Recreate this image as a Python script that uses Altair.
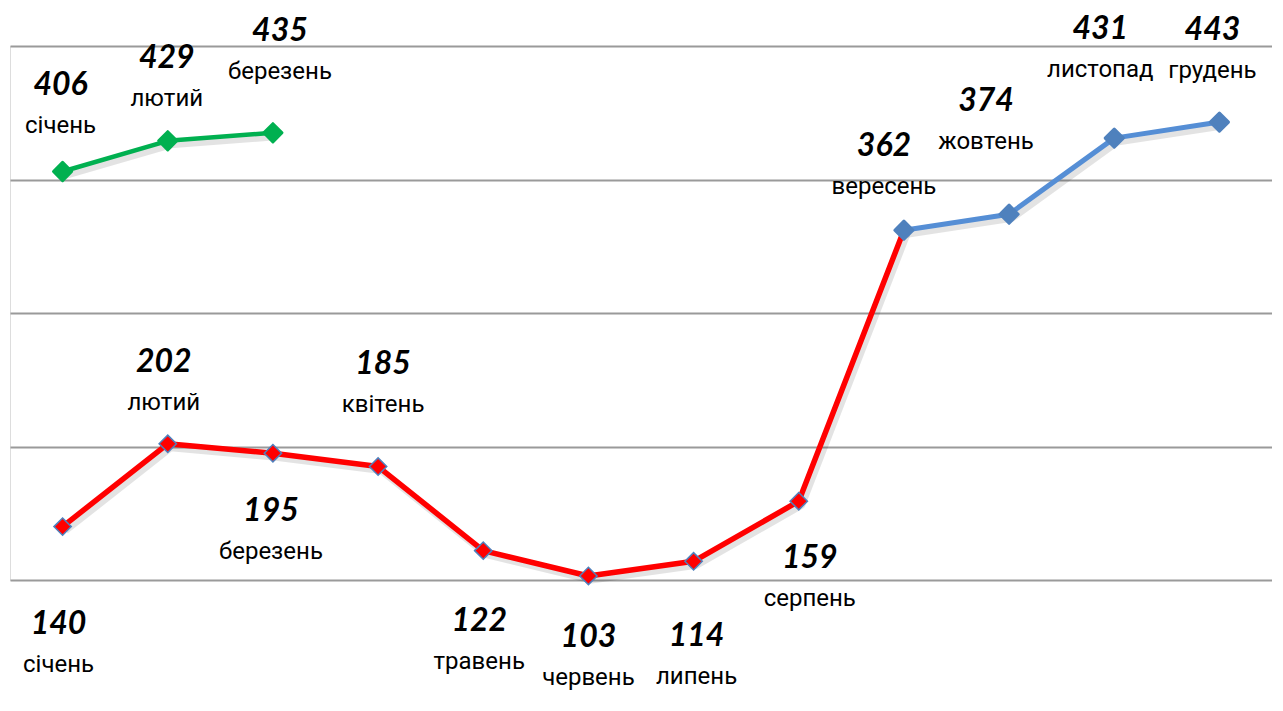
import altair as alt
import pandas as pd

# ---- data ----
months = ["січень", "лютий", "березень", "квітень", "травень", "червень",
          "липень", "серпень", "вересень", "жовтень", "листопад", "грудень"]
values_prev = [140, 202, 195, 185, 122, 103, 114, 159, 362, 374, 431, 443]
values_curr = [406, 429, 435]
red_upto = 8          # red segment covers months 0..8, blue segment 8..11

# label offsets (pixels, relative to point) for value text
prev_dx = [-4, -4, -2, 5, -4, 0, 3, 11, -20, -23, -14, -7]
prev_dy = [97, -82, 58, -103, 70, 61, 75, 57, -84, -113, -109, -92]
curr_dx = [-2, -1, 7]
curr_dy = [-86, -83, -102]

# ---- layout ----
W, H = 1262, 534
Y0, Y1 = 100, 500
step = W / 12.0
ppu = H / (Y1 - Y0)
MONTH_GAP = 41
SH_DX, SH_DY = 3, 4   # soft shadow offset in pixels
VAL_FONT = "Lato"
MONTH_FONT = "Roboto"

# line segments
seg_rows = []
for i, v in enumerate(values_prev):
    if i <= red_upto:
        seg_rows.append({"idx": i, "value": v, "seg": "red"})
    if i >= red_upto:
        seg_rows.append({"idx": i, "value": v, "seg": "blue"})
for i, v in enumerate(values_curr):
    seg_rows.append({"idx": i, "value": v, "seg": "green"})
seg_df = pd.DataFrame(seg_rows)
seg_df["sx"] = seg_df["idx"] + SH_DX / step
seg_df["sy"] = seg_df["value"] - SH_DY / ppu

pts_rows = []
for i, v in enumerate(values_prev):
    pts_rows.append({"idx": i, "value": v, "kind": "red" if i < red_upto else "blue"})
for i, v in enumerate(values_curr):
    pts_rows.append({"idx": i, "value": v, "kind": "green"})
pts_df = pd.DataFrame(pts_rows)

lab_rows = []
for i, v in enumerate(values_prev):
    lab_rows.append({"lx": i + prev_dx[i] / step, "vy": v - prev_dy[i] / ppu,
                     "my": v - (prev_dy[i] + MONTH_GAP) / ppu,
                     "val": str(v), "month": months[i]})
for i, v in enumerate(values_curr):
    lab_rows.append({"lx": i + curr_dx[i] / step, "vy": v - curr_dy[i] / ppu,
                     "my": v - (curr_dy[i] + MONTH_GAP) / ppu,
                     "val": str(v), "month": months[i]})
lab_df = pd.DataFrame(lab_rows)

xscale = alt.Scale(domain=[-0.5, 11.5], nice=False, zero=False)
yscale = alt.Scale(domain=[Y0, Y1], nice=False, zero=False)
no_x = alt.Axis(labels=False, ticks=False, domain=False, grid=False, title=None)
y_axis = alt.Axis(labels=False, ticks=False, domain=False, grid=True, title=None,
                  values=[100, 200, 300, 400, 500], gridColor="#9a9a9a", gridWidth=1.8)

color_scale = alt.Scale(domain=["red", "blue", "green"],
                        range=["#ff0000", "#558ed5", "#00b050"])
width_scale = alt.Scale(domain=["red", "blue", "green"], range=[5.5, 4.5, 4.5])

shadow = alt.Chart(seg_df).mark_line(strokeJoin="round", color="#000000",
                                     strokeOpacity=0.11, strokeWidth=7).encode(
    x=alt.X("sx:Q", scale=xscale, axis=no_x),
    y=alt.Y("sy:Q", scale=yscale, axis=y_axis),
    detail="seg:N",
    order="idx:Q",
)

lines = alt.Chart(seg_df).mark_line(strokeJoin="round").encode(
    x=alt.X("idx:Q", scale=xscale, axis=no_x),
    y=alt.Y("value:Q", scale=yscale, axis=y_axis),
    color=alt.Color("seg:N", scale=color_scale, legend=None),
    strokeWidth=alt.StrokeWidth("seg:N", scale=width_scale, legend=None),
    detail="seg:N",
    order="idx:Q",
)

red_pts = alt.Chart(pts_df).transform_filter(alt.datum.kind == "red").mark_point(
    shape="diamond", filled=True, size=300, fill="#ff0000", stroke="#4f81bd",
    strokeWidth=1.5, opacity=1).encode(
    x=alt.X("idx:Q", scale=xscale), y=alt.Y("value:Q", scale=yscale))

blue_pts = alt.Chart(pts_df).transform_filter(alt.datum.kind == "blue").mark_point(
    shape="diamond", filled=True, size=330, fill="#4f81bd", stroke="#4f81bd",
    strokeWidth=3, strokeJoin="round", opacity=1).encode(
    x=alt.X("idx:Q", scale=xscale), y=alt.Y("value:Q", scale=yscale))

green_pts = alt.Chart(pts_df).transform_filter(alt.datum.kind == "green").mark_point(
    shape="diamond", filled=True, size=330, fill="#00b050", stroke="#00b050",
    strokeWidth=3, strokeJoin="round", opacity=1).encode(
    x=alt.X("idx:Q", scale=xscale), y=alt.Y("value:Q", scale=yscale))

val_text = alt.Chart(lab_df).mark_text(
    font=VAL_FONT, fontSize=32, fontWeight="bold", fontStyle="italic",
    color="#000000", align="center", baseline="middle").encode(
    x=alt.X("lx:Q", scale=xscale), y=alt.Y("vy:Q", scale=yscale), text="val:N")

month_text = alt.Chart(lab_df).mark_text(
    font=MONTH_FONT, fontSize=24, color="#000000", align="center", baseline="middle").encode(
    x=alt.X("lx:Q", scale=xscale), y=alt.Y("my:Q", scale=yscale), text="month:N")

chart = alt.layer(shadow, lines, red_pts, blue_pts, green_pts, val_text, month_text).properties(
    width=W, height=H,
    autosize=alt.AutoSizeParams(type="none"),
    padding={"left": 2, "top": 38, "right": 0, "bottom": 115},
).configure_view(stroke=None).configure(background="white")

chart.save("out.html", embed_options={"renderer": "svg", "actions": False})
